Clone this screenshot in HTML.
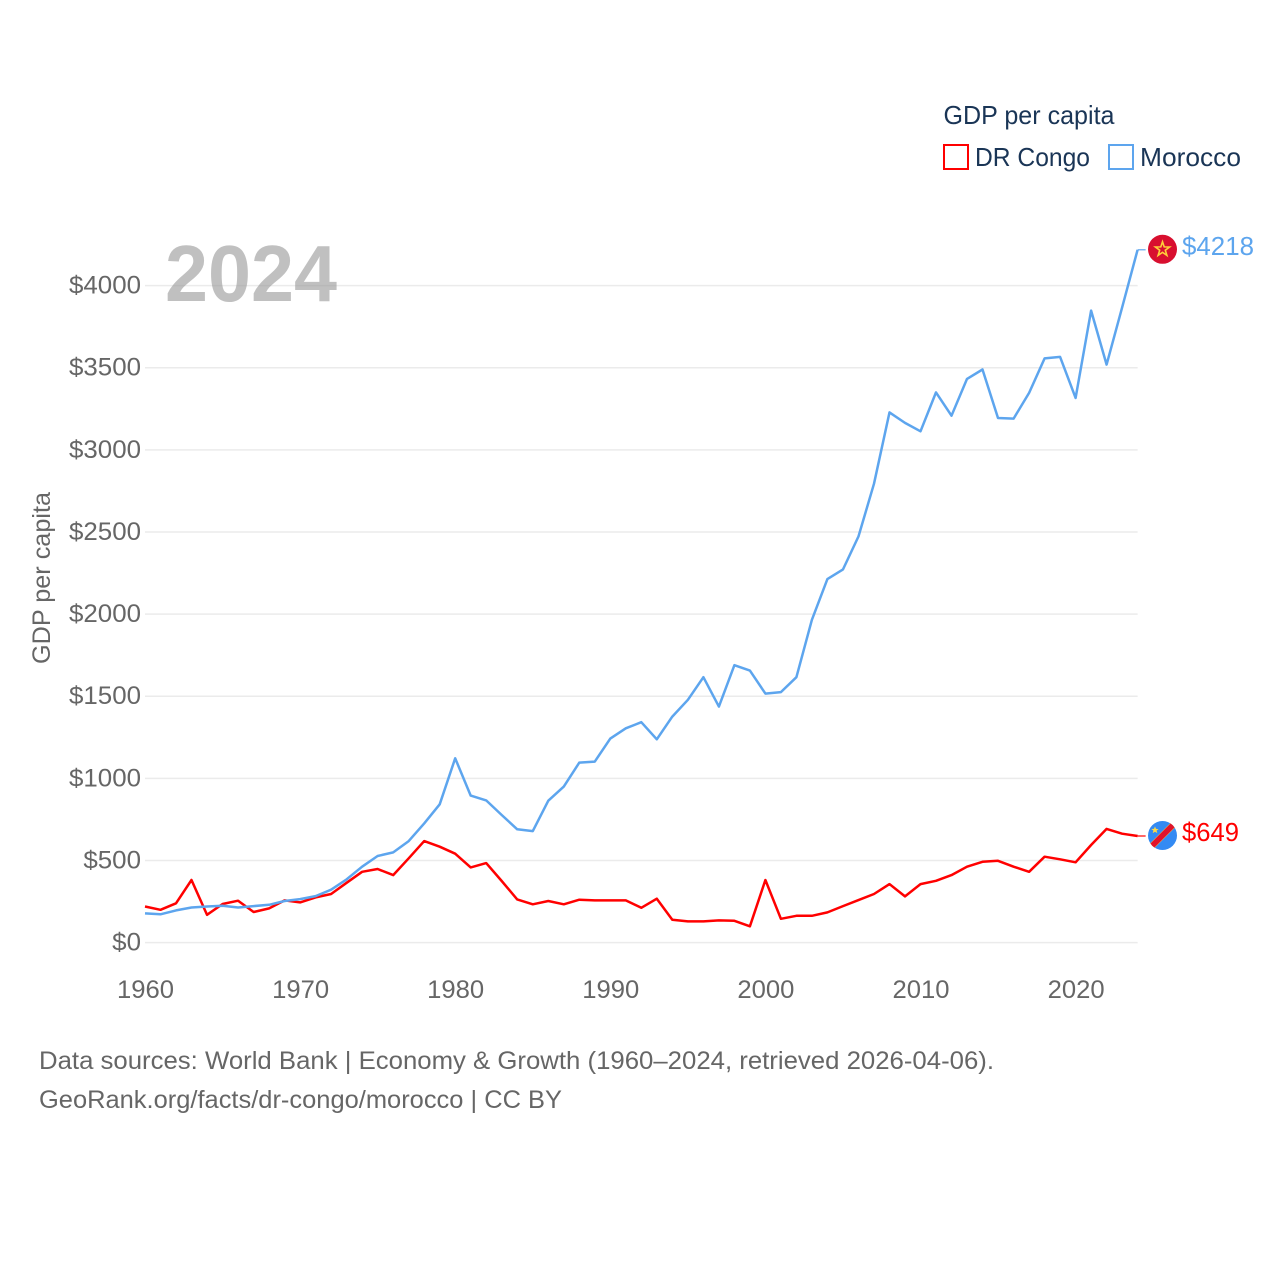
<!DOCTYPE html>
<html lang="en">
<head>
<meta charset="utf-8">
<title>GDP per capita: DR Congo and Morocco</title>
<style>
html,body{margin:0;padding:0;background:#fff;width:1280px;height:1280px;overflow:hidden}
svg{display:block}
text{font-family:"Liberation Sans",sans-serif}
.tick{font-size:25px;fill:#666}
.legend{font-size:26px;fill:#1a3556}
.source{font-size:25px;fill:#666}
</style>
</head>
<body>
<svg id="chart" xmlns="http://www.w3.org/2000/svg" width="1280" height="1280" viewBox="0 0 1280 1280">
  <defs>
    <clipPath id="clip-drc"><circle cx="0" cy="0" r="14.5"/></clipPath>
  </defs>
  <rect width="1280" height="1280" fill="#fff"/>
  <g id="grid"></g>
  <g id="yticks"></g>
  <g id="xticks"></g>
  <text transform="translate(50,578) rotate(-90)" text-anchor="middle" font-size="25" fill="#666" textLength="172" lengthAdjust="spacingAndGlyphs">GDP per capita</text>
  <text x="165" y="301" font-size="80" font-weight="700" fill="#999" fill-opacity="0.62" textLength="172" lengthAdjust="spacingAndGlyphs">2024</text>
  <g id="series"></g>
  <g id="flag-morocco">
    <circle r="14.5" fill="#d80f2f"/>
    <polygon points="0,-7.5 1.7,-2.4 7.1,-2.3 2.8,0.9 4.4,6.1 0,3 -4.4,6.1 -2.8,0.9 -7.1,-2.3 -1.7,-2.4" fill="none" stroke="#ffcf3a" stroke-width="1.6"/>
  </g>
  <g id="flag-drc">
    <g clip-path="url(#clip-drc)">
      <rect x="-15" y="-15" width="30" height="30" fill="#338af3"/>
      <polygon points="-18,13.5 13.5,-18 18,-13.5 -13.5,18" fill="#ffda44"/>
      <polygon points="-16,12 12,-16 16,-12 -12,16" fill="#e0132b"/>
    </g>
    <polygon points="-7.5,-9 -6.5,-6.6 -3.9,-6.5 -5.9,-4.9 -5.2,-2.4 -7.5,-3.8 -9.8,-2.4 -9.1,-4.9 -11.1,-6.5 -8.5,-6.6" fill="#ffda44"/>
  </g>
  <text id="label-morocco" x="1182" font-size="26" fill="#5da5ee" textLength="72" lengthAdjust="spacingAndGlyphs"></text>
  <text id="label-drc" x="1182" font-size="26" fill="#ff0000" textLength="57" lengthAdjust="spacingAndGlyphs"></text>

  <g>
    <text class="legend" x="943.5" y="124" textLength="171" lengthAdjust="spacingAndGlyphs">GDP per capita</text>
    <rect x="944" y="145" width="24" height="24" fill="none" stroke="#ff0000" stroke-width="2"/>
    <text class="legend" x="975" y="166" textLength="115" lengthAdjust="spacingAndGlyphs">DR Congo</text>
    <rect x="1109" y="145" width="24" height="24" fill="none" stroke="#5da5ee" stroke-width="2"/>
    <text class="legend" x="1140" y="166" textLength="101" lengthAdjust="spacingAndGlyphs">Morocco</text>
  </g>

  <text class="source" x="39" y="1069" textLength="955" lengthAdjust="spacingAndGlyphs">Data sources: World Bank | Economy &amp; Growth (1960–2024, retrieved 2026-04-06).</text>
  <text class="source" x="39" y="1108" textLength="523" lengthAdjust="spacingAndGlyphs">GeoRank.org/facts/dr-congo/morocco | CC BY</text>
</svg>
<script>
const years = [1960,1961,1962,1963,1964,1965,1966,1967,1968,1969,1970,1971,1972,1973,1974,1975,1976,1977,1978,1979,1980,1981,1982,1983,1984,1985,1986,1987,1988,1989,1990,1991,1992,1993,1994,1995,1996,1997,1998,1999,2000,2001,2002,2003,2004,2005,2006,2007,2008,2009,2010,2011,2012,2013,2014,2015,2016,2017,2018,2019,2020,2021,2022,2023,2024];
const drCongo = [220,200,239,381,169,235,255,186,208,257,245,275,296,364,431,448,411,513,618,584,541,458,484,375,263,233,253,233,261,257,257,257,212,267,139,129,129,135,133,99,381,145,163,163,184,222,259,296,356,281,356,376,411,462,492,498,462,431,523,507,489,594,692,663,649];
const morocco = [178,172,196,214,220,224,214,222,230,253,265,283,322,385,462,527,549,618,726,842,1122,895,866,777,690,679,864,950,1096,1102,1242,1305,1342,1238,1376,1478,1616,1437,1689,1656,1516,1525,1616,1965,2213,2272,2473,2794,3228,3164,3113,3350,3208,3432,3489,3194,3190,3347,3557,3566,3316,3848,3519,3866,4218];
const yTickValues = [0,500,1000,1500,2000,2500,3000,3500,4000];
const yTickLabels = ["$0","$500","$1000","$1500","$2000","$2500","$3000","$3500","$4000"];
const xTickValues = [1960,1970,1980,1990,2000,2010,2020];
const xTickLabels = ["1960","1970","1980","1990","2000","2010","2020"];

const NS = "http://www.w3.org/2000/svg";
const x0 = 145, xPerYear = 15.51, y0 = 942.6, yPerUnit = 0.16425;
function xScale(year) { return x0 + (year - years[0]) * xPerYear; }
function yScale(value) { return y0 - value * yPerUnit; }
function make(tag, parent, attrs) {
  const el = document.createElementNS(NS, tag);
  for (const k in attrs) el.setAttribute(k, attrs[k]);
  parent.appendChild(el);
  return el;
}
const xEnd = xScale(years[years.length - 1]);
const grid = document.getElementById("grid");
const yticks = document.getElementById("yticks");
const xticks = document.getElementById("xticks");
const series = document.getElementById("series");

yTickValues.forEach(function (v, i) {
  const line = make("line", grid, {x1: x0, x2: xEnd, y1: yScale(v), y2: yScale(v), stroke: "#ebebeb", "stroke-width": 1.5});
  
  
  const label = make("text", yticks, {x: 141, y: yScale(v) + 8, "text-anchor": "end", "class": "tick", textLength: yTickLabels[i].length * 14.4, lengthAdjust: "spacingAndGlyphs"});
  
  
  label.textContent = yTickLabels[i];
});

xTickValues.forEach(function (v, i) {
  const label = make("text", xticks, {x: xScale(v) + 0.5, y: 998, "text-anchor": "middle", "class": "tick", textLength: 57, lengthAdjust: "spacingAndGlyphs"});
  
  
  label.textContent = xTickLabels[i];
});

function pathFor(values) {
  return values.map(function (v, i) {
    return (i ? "L" : "M") + xScale(years[i]).toFixed(1) + " " + yScale(v).toFixed(1);
  }).join("");
}

const drLine = make("path", series, {d: pathFor(drCongo), fill: "none", stroke: "#ff0000", "stroke-width": 2.5, "stroke-linejoin": "round"});


const moLine = make("path", series, {d: pathFor(morocco), fill: "none", stroke: "#5da5ee", "stroke-width": 2.5, "stroke-linejoin": "round"});



const drLast = drCongo[drCongo.length - 1];
const moLast = morocco[morocco.length - 1];
const drConn = make("line", series, {x1: xEnd, x2: xEnd + 8, y1: yScale(drLast), y2: yScale(drLast), stroke: "#ff0000", "stroke-width": 1.2});


const moConn = make("line", series, {x1: xEnd, x2: xEnd + 8, y1: yScale(moLast), y2: yScale(moLast), stroke: "#5da5ee", "stroke-width": 1.2});



document.getElementById("flag-morocco").setAttribute("transform", "translate(1162.5," + (yScale(moLast) - 0.5) + ")");
document.getElementById("flag-drc").setAttribute("transform", "translate(1162.5," + (yScale(drLast) - 0.5) + ")");
const labelMo = document.getElementById("label-morocco");
labelMo.setAttribute("y", yScale(moLast) + 5);
labelMo.textContent = "$" + moLast;
const labelDr = document.getElementById("label-drc");
labelDr.setAttribute("y", yScale(drLast) + 5);
labelDr.textContent = "$" + drLast;
</script>
</body>
</html>
